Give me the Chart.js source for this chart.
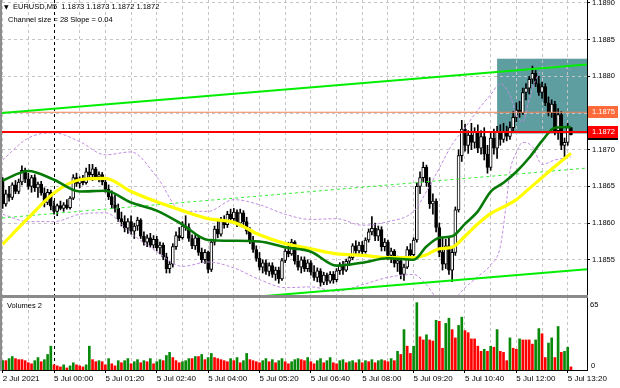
<!DOCTYPE html>
<html>
<head>
<meta charset="utf-8">
<script src="https://cdn.jsdelivr.net/npm/chart.js@4.4.0/dist/chart.umd.min.js"></script>
<style>
  body { margin: 0; background: #fff; width: 620px; height: 388px; overflow: hidden; position: relative;
         font-family: "Liberation Sans", Arial, sans-serif; }
  #main { position: absolute; left: 0; top: 0; }
  #vol { position: absolute; left: 0; top: 298px; }
  #sep { position: absolute; left: 0; top: 295px; width: 588px; height: 3px; background: #8a8a8a; }
  #lb { position: absolute; left: 0; top: 0; width: 2px; height: 371px; background: #8c8c8c; }
  .t { position: absolute; font-size: 7.5px; color: #000; white-space: pre; line-height: 9px; }
</style>
</head>
<body>
<canvas id="main" width="620" height="295"></canvas>
<div id="sep"></div>
<canvas id="vol" width="620" height="90"></canvas>
<div id="lb"></div>
<div class="t" style="left:4px;top:2px;font-family:'DejaVu Sans';font-size:6px">▼</div>
<div class="t" style="left:13px;top:2px">EURUSD,M5  1.1873 1.1873 1.1872 1.1872</div>
<div class="t" style="left:8px;top:15px">Channel size = 28 Slope = 0.04</div>
<div class="t" style="left:7px;top:301px">Volumes 2</div>
<script>
// EURUSD M5, 2 Jul 22:40 .. 5 Jul 13:25, one entry per bar
var opens = [1.18658,1.18626,1.18640,1.18635,1.18652,1.18643,1.18656,1.18672,1.18660,1.18650,
1.18662,1.18648,1.18653,1.18641,1.18628,1.18642,1.18623,1.18616,1.18624,1.18620,
1.18625,1.18621,1.18634,1.18662,1.18654,1.18660,1.18655,1.18670,1.18666,1.18674,
1.18663,1.18666,1.18656,1.18646,1.18636,1.18625,1.18620,1.18606,1.18602,1.18593,
1.18602,1.18589,1.18596,1.18604,1.18582,1.18574,1.18580,1.18570,1.18578,1.18566,
1.18570,1.18554,1.18538,1.18544,1.18568,1.18583,1.18580,1.18596,1.18594,1.18579,
1.18569,1.18580,1.18560,1.18550,1.18560,1.18537,1.18574,1.18592,1.18585,1.18603,
1.18598,1.18612,1.18606,1.18615,1.18600,1.18614,1.18602,1.18589,1.18576,1.18564,
1.18552,1.18540,1.18546,1.18534,1.18542,1.18530,1.18536,1.18524,1.18549,1.18562,
1.18558,1.18574,1.18548,1.18540,1.18550,1.18538,1.18546,1.18533,1.18526,1.18535,
1.18519,1.18529,1.18521,1.18530,1.18523,1.18535,1.18542,1.18536,1.18548,1.18553,
1.18569,1.18562,1.18570,1.18561,1.18577,1.18588,1.18593,1.18582,1.18591,1.18568,
1.18574,1.18556,1.18562,1.18545,1.18549,1.18530,1.18540,1.18564,1.18557,1.18577,
1.18650,1.18662,1.18676,1.18655,1.18626,1.18630,1.18594,1.18560,1.18544,1.18569,
1.18536,1.18560,1.18618,1.18692,1.18728,1.18706,1.18720,1.18710,1.18724,1.18702,
1.18718,1.18694,1.18676,1.18716,1.18702,1.18724,1.18714,1.18725,1.18718,1.18730,
1.18744,1.18754,1.18750,1.18778,1.18784,1.18796,1.18804,1.18790,1.18778,1.18786,
1.18764,1.18750,1.18762,1.18726,1.18748,1.18706,1.18710,1.18730];

var highs = [1.18662,1.18645,1.18650,1.18655,1.18658,1.18660,1.18678,1.18675,1.18668,1.18665,
1.18666,1.18656,1.18657,1.18648,1.18646,1.18645,1.18630,1.18626,1.18630,1.18628,
1.18632,1.18636,1.18666,1.18668,1.18663,1.18665,1.18675,1.18680,1.18680,1.18676,
1.18670,1.18669,1.18660,1.18652,1.18644,1.18638,1.18626,1.18615,1.18610,1.18606,
1.18610,1.18600,1.18608,1.18606,1.18588,1.18584,1.18586,1.18583,1.18582,1.18574,
1.18573,1.18559,1.18548,1.18572,1.18588,1.18594,1.18602,1.18610,1.18599,1.18584,
1.18584,1.18582,1.18566,1.18564,1.18562,1.18578,1.18596,1.18604,1.18608,1.18610,
1.18616,1.18619,1.18620,1.18618,1.18619,1.18617,1.18608,1.18594,1.18582,1.18569,
1.18560,1.18550,1.18550,1.18546,1.18546,1.18540,1.18540,1.18552,1.18565,1.18574,
1.18578,1.18576,1.18556,1.18554,1.18554,1.18550,1.18549,1.18542,1.18539,1.18538,
1.18533,1.18532,1.18534,1.18534,1.18538,1.18546,1.18548,1.18551,1.18556,1.18572,
1.18576,1.18574,1.18575,1.18580,1.18592,1.18609,1.18600,1.18596,1.18595,1.18579,
1.18577,1.18566,1.18564,1.18555,1.18552,1.18544,1.18568,1.18572,1.18580,1.18655,
1.18670,1.18683,1.18679,1.18662,1.18640,1.18633,1.18600,1.18580,1.18578,1.18582,
1.18566,1.18622,1.18700,1.18740,1.18735,1.18726,1.18736,1.18730,1.18734,1.18726,
1.18730,1.18706,1.18724,1.18728,1.18732,1.18734,1.18736,1.18732,1.18738,1.18752,
1.18764,1.18766,1.18784,1.18790,1.18800,1.18814,1.18808,1.18800,1.18792,1.18790,
1.18772,1.18768,1.18766,1.18756,1.18752,1.18716,1.18736,1.18730];

var lows = [1.18620,1.18623,1.18630,1.18632,1.18640,1.18640,1.18652,1.18655,1.18646,1.18642,
1.18643,1.18635,1.18638,1.18622,1.18625,1.18618,1.18612,1.18610,1.18618,1.18616,
1.18619,1.18619,1.18632,1.18650,1.18648,1.18652,1.18653,1.18662,1.18658,1.18659,
1.18656,1.18652,1.18642,1.18632,1.18620,1.18615,1.18602,1.18596,1.18588,1.18586,
1.18585,1.18579,1.18590,1.18579,1.18570,1.18568,1.18567,1.18566,1.18562,1.18558,
1.18550,1.18532,1.18532,1.18540,1.18564,1.18576,1.18578,1.18590,1.18575,1.18565,
1.18564,1.18556,1.18546,1.18545,1.18532,1.18534,1.18570,1.18580,1.18582,1.18593,
1.18594,1.18602,1.18600,1.18595,1.18596,1.18598,1.18585,1.18572,1.18560,1.18548,
1.18536,1.18532,1.18530,1.18528,1.18526,1.18522,1.18518,1.18522,1.18546,1.18554,
1.18556,1.18544,1.18536,1.18532,1.18534,1.18534,1.18529,1.18522,1.18520,1.18514,
1.18516,1.18516,1.18518,1.18518,1.18520,1.18530,1.18530,1.18534,1.18542,1.18550,
1.18558,1.18559,1.18557,1.18559,1.18574,1.18584,1.18576,1.18576,1.18562,1.18562,
1.18550,1.18546,1.18540,1.18534,1.18524,1.18522,1.18538,1.18553,1.18554,1.18574,
1.18640,1.18656,1.18650,1.18620,1.18612,1.18588,1.18554,1.18536,1.18538,1.18530,
1.18520,1.18556,1.18615,1.18684,1.18698,1.18695,1.18700,1.18702,1.18696,1.18694,
1.18686,1.18668,1.18672,1.18694,1.18688,1.18706,1.18710,1.18712,1.18714,1.18726,
1.18738,1.18744,1.18748,1.18768,1.18776,1.18790,1.18786,1.18774,1.18770,1.18760,
1.18746,1.18744,1.18720,1.18714,1.18700,1.18690,1.18706,1.18720];

var closes = [1.18626,1.18640,1.18635,1.18652,1.18643,1.18656,1.18672,1.18660,1.18650,1.18662,
1.18648,1.18653,1.18641,1.18628,1.18642,1.18623,1.18616,1.18624,1.18620,1.18625,
1.18621,1.18634,1.18662,1.18654,1.18660,1.18655,1.18670,1.18666,1.18674,1.18663,
1.18666,1.18656,1.18646,1.18636,1.18625,1.18620,1.18606,1.18602,1.18593,1.18602,
1.18589,1.18596,1.18604,1.18582,1.18574,1.18580,1.18570,1.18578,1.18566,1.18570,
1.18554,1.18538,1.18544,1.18568,1.18583,1.18580,1.18596,1.18594,1.18579,1.18569,
1.18580,1.18560,1.18550,1.18560,1.18537,1.18574,1.18592,1.18585,1.18603,1.18598,
1.18612,1.18606,1.18615,1.18600,1.18614,1.18602,1.18589,1.18576,1.18564,1.18552,
1.18540,1.18546,1.18534,1.18542,1.18530,1.18536,1.18524,1.18549,1.18562,1.18558,
1.18574,1.18548,1.18540,1.18550,1.18538,1.18546,1.18533,1.18526,1.18535,1.18519,
1.18529,1.18521,1.18530,1.18523,1.18535,1.18542,1.18536,1.18548,1.18553,1.18569,
1.18562,1.18570,1.18561,1.18577,1.18588,1.18593,1.18582,1.18591,1.18568,1.18574,
1.18556,1.18562,1.18545,1.18549,1.18530,1.18540,1.18564,1.18557,1.18577,1.18650,
1.18662,1.18676,1.18655,1.18626,1.18630,1.18594,1.18560,1.18544,1.18569,1.18536,
1.18560,1.18618,1.18692,1.18728,1.18706,1.18720,1.18710,1.18724,1.18702,1.18718,
1.18694,1.18676,1.18716,1.18702,1.18724,1.18714,1.18725,1.18718,1.18730,1.18744,
1.18754,1.18750,1.18778,1.18784,1.18796,1.18804,1.18790,1.18778,1.18786,1.18764,
1.18750,1.18762,1.18726,1.18748,1.18706,1.18710,1.18730,1.18720];

var volumes = [9,9,11,13,11,10,10,9,7,6,9,12,8,10,15,23,
5,4,3,5,2,4,7,5,4,3,5,23,
10,8,9,8,5,11,6,4,9,7,9,11,6,
8,10,7,9,8,11,6,8,10,9,14,17,
12,9,7,8,9,11,11,13,13,15,10,12,
16,12,11,10,9,8,11,9,12,7,9,16,
10,9,8,7,9,11,8,10,7,9,11,8,
6,8,10,11,10,9,12,8,6,9,11,7,
9,12,7,6,9,10,7,8,9,7,10,7,
9,8,10,7,9,10,9,8,11,9,18,15,
39,23,16,23,65,32,29,34,29,28,48,47,21,45,50,39,31,43,51,38,
36,30,30,23,18,20,18,23,22,39,18,17,9,31,21,20,30,29,29,29,
25,29,40,35,12,26,31,12,42,17,18,22,3];

// indicator lines at these bars
var maBars = [0,8,16,24,32,40,48,56,64,72,80,88,96,104,112,120,128,132,136,140,144,148,152,156,160,164,168,172,177];
var fastMA = [1.18658,1.18671,1.18659,1.18643,1.18644,1.18628,1.18617,1.18598,1.18577,1.18576,1.18575,1.18567,1.18561,1.18542,1.18546,
  1.18552,1.18550,1.18568,1.18580,1.18582,1.18599,1.18616,1.18643,1.18655,1.18670,1.18689,1.18712,1.18730,1.18731];
var slowMA = [1.18571,1.18607,1.18641,1.18659,1.18661,1.18643,1.18629,1.18617,1.18606,1.18601,1.18584,1.18572,1.18565,1.18558,1.18556,
  1.18553,1.18553,1.18557,1.18565,1.18567,1.18582,1.18599,1.18613,1.18622,1.18632,1.18647,1.18662,1.18677,1.18695];

var upBars = [0,8,16,24,32,40,48,56,64,72,80,88,96,104,112,120,128,132,136,140,144,148,152,155,158,160,162,164,166,168,172,177];
var upperBand = [1.18686,1.18716,1.18723,1.18711,1.18693,1.18697,1.18663,1.18616,1.18616,1.18632,1.18625,1.18612,1.18605,1.18606,1.18597,1.18602,
  1.18616,1.18643,1.18675,1.18707,1.18730,1.18754,1.18775,1.18790,1.18774,1.18748,1.18738,1.18768,1.18795,1.18809,1.18814,1.18809];
var loBars = [0,8,16,24,32,40,48,56,64,72,80,88,96,104,112,120,128,132,136,140,144,148,152,155,157,158,160,162,165,168,172,177];
var lowerBand = [1.18612,1.18602,1.18602,1.18612,1.18614,1.18586,1.18561,1.18541,1.18547,1.18539,1.18523,1.18512,1.18513,1.18507,1.18516,1.18526,
  1.18530,1.18516,1.18496,1.18496,1.18512,1.18527,1.18543,1.18568,1.18632,1.18670,1.18696,1.18710,1.18704,1.18680,1.18686,1.18690];

// regression channel (ends at the left and right edge)
var chanBars = [-0.2, 182];
var chanUpper = [1.18750, 1.18816];
var chanMid = [1.18607, 1.18675];
var chanLower = [1.18471, 1.18537];

var orangeLevel = 1.18751;
var redLevel = 1.18724;
var rectBars = [154, 182];
var rectPrices = [1.18722, 1.18824];

var priceTicks = [1.1855, 1.1860, 1.1865, 1.1870, 1.1875, 1.1880, 1.1885, 1.1890];
var gridBars = [0,8,16,24,32,40,48,56,64,72,80,88,96,104,112,120,128,136,144,152,160,168,176];
var timeBars = [0,16,32,48,64,80,96,112,128,144,160,176];
var timeLabels = ['2 Jul 2021','5 Jul 00:00','5 Jul 01:20','5 Jul 02:40','5 Jul 04:00','5 Jul 05:20',
  '5 Jul 06:40','5 Jul 08:00','5 Jul 09:20','5 Jul 10:40','5 Jul 12:00','5 Jul 13:20'];
var volMax = 65;

var xMin = -0.2, xMax = 182;
var yMin = 1.18502, yMax = 1.18904;
var dayBar = 16;
var font = {family: 'Liberation Sans', size: 7.5};

function pts(xs, ys) {
  return xs.map(function (x, i) { return {x: x, y: ys[i]}; });
}
function line(data, color, width, dash, order) {
  return {type: 'line', data: data, borderColor: color, borderWidth: width, borderDash: dash || [],
    pointRadius: 0, fill: false, cubicInterpolationMode: 'monotone', order: order, clip: 0};
}
function gridColor(c) {
  return c.tick && c.tick.value === dayBar ? '#000' : '#c4c4c4';
}

var overlay = {
  id: 'overlay',
  beforeDraw: function (chart) {
    var a = chart.chartArea, x = chart.scales.x, y = chart.scales.y, ctx = chart.ctx;
    var x1 = x.getPixelForValue(rectBars[0]), x2 = Math.min(x.getPixelForValue(rectBars[1]), a.right);
    var y1 = y.getPixelForValue(rectPrices[1]), y2 = y.getPixelForValue(rectPrices[0]);
    ctx.save();
    ctx.fillStyle = '#5f9ea0';
    ctx.fillRect(x1, y1, x2 - x1, y2 - y1);
    ctx.restore();
  },
  afterDraw: function (chart) {
    var a = chart.chartArea, y = chart.scales.y, ctx = chart.ctx;
    function box(level, color) {
      var py = Math.round(y.getPixelForValue(level));
      ctx.fillStyle = color;
      ctx.fillRect(a.right + 1, py - 6, 30, 12);
      ctx.fillStyle = '#fff';
      ctx.font = '7.5px "Liberation Sans"';
      ctx.textBaseline = 'middle';
      ctx.fillText(level.toFixed(4), a.right + 5, py);
      return py;
    }
    ctx.save();
    box(orangeLevel, '#ff6a3a');
    var ry = box(redLevel, '#ff0000');
    ctx.fillStyle = '#000';
    ctx.fillRect(a.right + 1, ry + 6, 30, 2);
    ctx.restore();
  }
};

var candles = opens.map(function (o, i) { return {x: i, y: [o, closes[i]]}; });
var wicks = opens.map(function (o, i) { return {x: i, y: [lows[i], highs[i]]}; });

new Chart(document.getElementById('main'), {
  type: 'bar',
  data: {
    datasets: [
      {data: wicks, backgroundColor: '#000', barThickness: 1, grouped: false, order: 6},
      {data: candles, grouped: false, order: 5, barThickness: 3, minBarLength: 1, borderSkipped: false,
        backgroundColor: candles.map(function (c) { return c.y[1] >= c.y[0] ? '#ffffff' : '#000000'; }),
        borderColor: '#000', borderWidth: 1},
      line(pts(upBars, upperBand), '#c08ce0', 1, [3, 2], 4),
      line(pts(loBars, lowerBand), '#c08ce0', 1, [3, 2], 4),
      line(pts(chanBars, chanMid), '#33ee33', 1, [3, 3], 3),
      line(pts(maBars, slowMA), '#ffff00', 3.2, null, 2),
      line(pts(maBars, fastMA), '#067a06', 2.6, null, 1),
      line(pts(chanBars, chanUpper), '#00ee00', 2, null, 0),
      line(pts(chanBars, chanLower), '#00ee00', 2, null, 0),
      line(pts([xMin, xMax], [orangeLevel, orangeLevel]), '#f0825a', 1, null, 0),
      line(pts([xMin, xMax], [redLevel, redLevel]), '#ff0000', 2, null, 0)
    ]
  },
  options: {
    responsive: false, animation: false, events: [],
    layout: {padding: {left: 2, top: 0, right: 0, bottom: 0}},
    plugins: {legend: {display: false}, tooltip: {enabled: false}},
    scales: {
      x: {type: 'linear', min: xMin, max: xMax, offset: false,
        grid: {offset: false, color: gridColor, drawTicks: false},
        border: {display: false, dash: [3, 3]},
        ticks: {display: false},
        afterBuildTicks: function (s) { s.ticks = gridBars.map(function (v) { return {value: v}; }); },
        afterFit: function (s) { s.height = 0; s.paddingLeft = 0; s.paddingRight = 0; }},
      y: {position: 'right', min: yMin, max: yMax,
        grid: {color: '#c4c4c4', tickColor: '#000', tickLength: 3, tickBorderDash: []},
        border: {color: '#000', width: 1, dash: [3, 3]},
        ticks: {font: font, color: '#000', padding: 2,
          callback: function (v) { return v.toFixed(4); }},
        afterBuildTicks: function (s) { s.ticks = priceTicks.map(function (v) { return {value: v}; }); },
        afterFit: function (s) { s.width = 33; s.paddingTop = 0; s.paddingBottom = 0; }}
    }
  },
  plugins: [overlay]
});

var volLabels = {
  id: 'volLabels',
  afterDraw: function (chart) {
    var a = chart.chartArea, ctx = chart.ctx;
    ctx.save();
    ctx.fillStyle = '#000';
    ctx.font = '7.5px "Liberation Sans"';
    ctx.textBaseline = 'middle';
    ctx.fillText(String(volMax), a.right + 3, chart.scales.y.getPixelForValue(volMax) + 2);
    ctx.fillText('0', a.right + 4, chart.scales.y.getPixelForValue(0) - 4);
    ctx.restore();
  }
};

new Chart(document.getElementById('vol'), {
  type: 'bar',
  data: {
    datasets: [{
      data: volumes.map(function (v, i) { return {x: i, y: v}; }),
      backgroundColor: volumes.map(function (v, i) { return i === 0 || v > volumes[i - 1] ? '#0a8a0a' : '#ff0000'; }),
      barThickness: 2, grouped: false
    }]
  },
  options: {
    responsive: false, animation: false, events: [],
    layout: {padding: {left: 2, top: 0, right: 0, bottom: 0}},
    plugins: {legend: {display: false}, tooltip: {enabled: false}},
    scales: {
      x: {type: 'linear', min: xMin, max: xMax, offset: false,
        grid: {offset: false, color: gridColor, tickLength: 3, tickBorderDash: [],
          tickColor: function (c) { return c.tick && timeBars.indexOf(c.tick.value) >= 0 ? '#000' : 'rgba(0,0,0,0)'; }},
        border: {color: '#000', width: 1, dash: [3, 3]},
        ticks: {font: {family: 'Liberation Sans', size: 8}, color: '#000', padding: 1, align: 'start', autoSkip: false,
          maxRotation: 0, minRotation: 0,
          callback: function (v) { var k = timeBars.indexOf(v); return k >= 0 ? timeLabels[k] : ''; }},
        afterBuildTicks: function (s) { s.ticks = gridBars.map(function (v) { return {value: v}; }); },
        afterFit: function (s) { s.height = 18; s.paddingLeft = 0; s.paddingRight = 0; }},
      y: {position: 'right', min: 0, max: 69.5,
        grid: {display: false},
        border: {color: '#000', width: 1},
        ticks: {display: false},
        afterFit: function (s) { s.width = 33; s.paddingTop = 0; s.paddingBottom = 0; }}
    }
  },
  plugins: [volLabels]
});
</script>
</body>
</html>
